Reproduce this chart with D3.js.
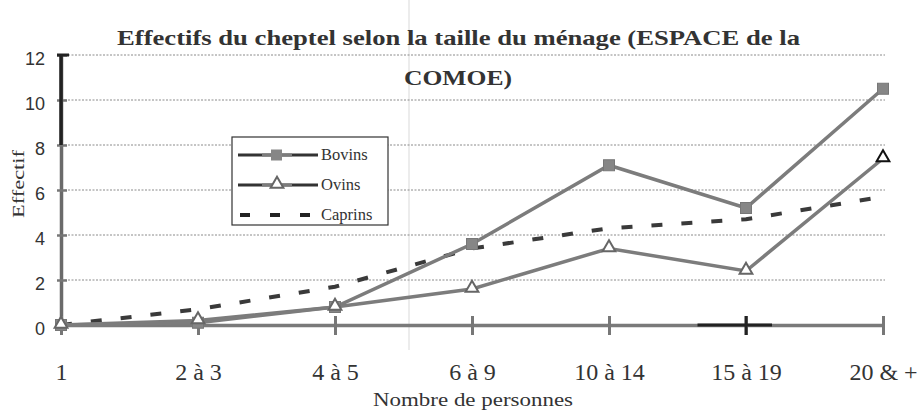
<!DOCTYPE html>
<html>
<head>
<meta charset="utf-8">
<script src="https://cdn.jsdelivr.net/npm/d3@7/dist/d3.min.js"></script>
<style>
  html, body { margin: 0; padding: 0; background: #fff; }
  svg { display: block; }
</style>
</head>
<body>
<svg id="chart" width="922" height="413"></svg>
<script>
// Household-size categories and livestock counts
const categories = ["1", "2 à 3", "4 à 5", "6 à 9", "10 à 14", "15 à 19", "20 & +"];
const bovins  = [0, 0.1, 0.8, 3.6, 7.1, 5.2, 10.5];
const ovins   = [0, 0.2, 0.8, 1.6, 3.4, 2.4, 7.4];
const caprins = [0, 0.7, 1.7, 3.4, 4.3, 4.7, 5.7];
const yTicks  = [0, 2, 4, 6, 8, 10, 12];
const titleLines = ["Effectifs du cheptel selon la taille du ménage (ESPACE de la", "COMOE)"];

const svg = d3.select("#chart");
const W = 922, H = 413;
const margin = { left: 61, right: 39, top: 55, bottom: 88 };

const x = d3.scalePoint().domain(categories).range([margin.left, W - margin.right]);
const y = d3.scaleLinear().domain([0, 12]).range([H - margin.bottom, margin.top]);

const serif = "'Times New Roman', 'Liberation Serif', Times, serif";
const sans = "Arial, 'Liberation Sans', sans-serif";

// faint vertical rule through the page
svg.append("line")
  .attr("x1", 409).attr("x2", 409).attr("y1", 0).attr("y2", 350)
  .attr("stroke", "#e6e6e6").attr("stroke-width", 1.5);

// dotted horizontal gridlines
svg.append("g")
  .selectAll("line")
  .data(yTicks.filter(d => d > 0))
  .join("line")
  .attr("x1", x.range()[0]).attr("x2", x.range()[1] + 2)
  .attr("y1", d => y(d)).attr("y2", d => y(d))
  .attr("stroke", "#8a8a8a").attr("stroke-width", 1)
  .attr("stroke-dasharray", "2,1.5");

// Y axis
const yAxis = svg.append("g")
  .attr("transform", `translate(${margin.left},0)`)
  .call(d3.axisLeft(y).tickValues(yTicks).tickSize(0).tickPadding(16));
yAxis.select(".domain").attr("stroke", "#6a6a6a").attr("stroke-width", 3.5);
yAxis.selectAll("text")
  .attr("font-family", sans).attr("font-size", 18).attr("fill", "#333")
  .attr("dy", "0.55em");
// short cross ticks on the y axis
yAxis.selectAll(".tick").append("line")
  .attr("x1", -4).attr("x2", 6)
  .attr("stroke", "#777").attr("stroke-width", 2.5);
// dark upper part of the y axis
svg.append("line")
  .attr("x1", margin.left).attr("x2", margin.left)
  .attr("y1", y(12)).attr("y2", y(8))
  .attr("stroke", "#222").attr("stroke-width", 3.5);
svg.append("line")
  .attr("x1", margin.left - 4).attr("x2", margin.left + 8)
  .attr("y1", y(12)).attr("y2", y(12))
  .attr("stroke", "#222").attr("stroke-width", 3);

// X axis along zero
const xAxis = svg.append("g")
  .attr("transform", `translate(0,${y(0)})`)
  .call(d3.axisBottom(x).tickSize(0).tickPadding(38));
xAxis.select(".domain").attr("stroke", "#7a7a7a").attr("stroke-width", 3.5);
xAxis.selectAll("text")
  .attr("font-family", serif).attr("font-size", 24).attr("fill", "#333");
xAxis.selectAll(".tick").append("line")
  .attr("y1", -9).attr("y2", 10)
  .attr("stroke", "#777").attr("stroke-width", 3);
// darker stretch around "15 à 19"
svg.append("line")
  .attr("x1", (x("10 à 14") + x("15 à 19")) / 2 + 20)
  .attr("x2", x("15 à 19") + 26)
  .attr("y1", y(0)).attr("y2", y(0))
  .attr("stroke", "#222").attr("stroke-width", 3);
svg.append("line")
  .attr("x1", x("15 à 19")).attr("x2", x("15 à 19"))
  .attr("y1", y(0) - 9).attr("y2", y(0) + 10)
  .attr("stroke", "#222").attr("stroke-width", 3);

const line = d3.line().x((d, i) => x(categories[i])).y(d => y(d));

// Caprins dashed
svg.append("path").datum(caprins)
  .attr("d", line)
  .attr("fill", "none").attr("stroke", "#3a3a3a").attr("stroke-width", 4)
  .attr("stroke-dasharray", "11,19");

// Ovins
svg.append("path").datum(ovins)
  .attr("d", line)
  .attr("fill", "none").attr("stroke", "#7c7c7c").attr("stroke-width", 3.5);

// Bovins
svg.append("path").datum(bovins)
  .attr("d", line)
  .attr("fill", "none").attr("stroke", "#7c7c7c").attr("stroke-width", 3.5);

// Bovins square markers
svg.append("g").selectAll("rect")
  .data(bovins)
  .join("rect")
  .attr("x", (d, i) => x(categories[i]) - 5.5)
  .attr("y", d => y(d) - 5.5)
  .attr("width", 11).attr("height", 11)
  .attr("fill", "#868686").attr("stroke", "#777").attr("stroke-width", 1);

// Ovins triangle markers
const tri = d3.symbol().type(d3.symbolTriangle).size(70);
svg.append("g").selectAll("path")
  .data(ovins)
  .join("path")
  .attr("d", tri)
  .attr("transform", (d, i) => `translate(${x(categories[i])},${y(d) - 1})`)
  .attr("fill", "#fff").attr("stroke", (d, i) => i === categories.length - 1 ? "#111" : "#666")
  .attr("stroke-width", 2);

// Title, two lines, wide setting
const titleWidths = [683, 108];
svg.append("g").selectAll("text")
  .data(titleLines)
  .join("text")
  .attr("x", (d, i) => i === 0 ? 458.5 : 458)
  .attr("y", (d, i) => 45 + i * 40)
  .attr("text-anchor", "middle")
  .attr("font-family", serif).attr("font-weight", "bold").attr("font-size", 21)
  .attr("textLength", (d, i) => titleWidths[i])
  .attr("lengthAdjust", "spacingAndGlyphs")
  .attr("fill", "#333")
  .text(d => d);

// Axis titles
svg.append("text")
  .attr("transform", "translate(24,184) rotate(-90)")
  .attr("text-anchor", "middle")
  .attr("font-family", serif).attr("font-size", 16).attr("fill", "#333")
  .attr("textLength", 68).attr("lengthAdjust", "spacingAndGlyphs")
  .text("Effectif");
svg.append("text")
  .attr("x", 473).attr("y", 406)
  .attr("text-anchor", "middle")
  .attr("font-family", serif).attr("font-size", 18).attr("fill", "#333")
  .attr("textLength", 200).attr("lengthAdjust", "spacingAndGlyphs")
  .text("Nombre de personnes");

// Legend
const lg = svg.append("g").attr("transform", "translate(232,137)");
lg.append("rect").attr("width", 156).attr("height", 88)
  .attr("fill", "#fff").attr("stroke", "#333").attr("stroke-width", 1.2);
const items = [
  { name: "Bovins", type: "square" },
  { name: "Ovins", type: "triangle" },
  { name: "Caprins", type: "dash" }
];
items.forEach((it, i) => {
  const yy = 18 + i * 30;
  const row = lg.append("g").attr("transform", `translate(0,${yy})`);
  if (it.type === "dash") {
    row.append("line").attr("x1", 8).attr("x2", 84).attr("y1", 0).attr("y2", 0)
      .attr("stroke", "#222").attr("stroke-width", 4).attr("stroke-dasharray", "10,20");
  } else {
    row.append("line").attr("x1", 6).attr("x2", 86).attr("y1", 0).attr("y2", 0)
      .attr("stroke", "#333").attr("stroke-width", 3);
    row.append("line").attr("x1", 30).attr("x2", 60).attr("y1", 0).attr("y2", 0)
      .attr("stroke", "#7c7c7c").attr("stroke-width", 3);
    if (it.type === "square") {
      row.append("rect").attr("x", 39).attr("y", -5.5).attr("width", 11).attr("height", 11)
        .attr("fill", "#868686");
    } else {
      row.append("path").attr("d", tri).attr("transform", "translate(45,-1)")
        .attr("fill", "#fff").attr("stroke", "#666").attr("stroke-width", 2);
    }
  }
  row.append("text").attr("x", 89).attr("y", 5)
    .attr("font-family", serif).attr("font-size", 16.5).attr("fill", "#333")
    .text(it.name);
});
</script>
</body>
</html>
